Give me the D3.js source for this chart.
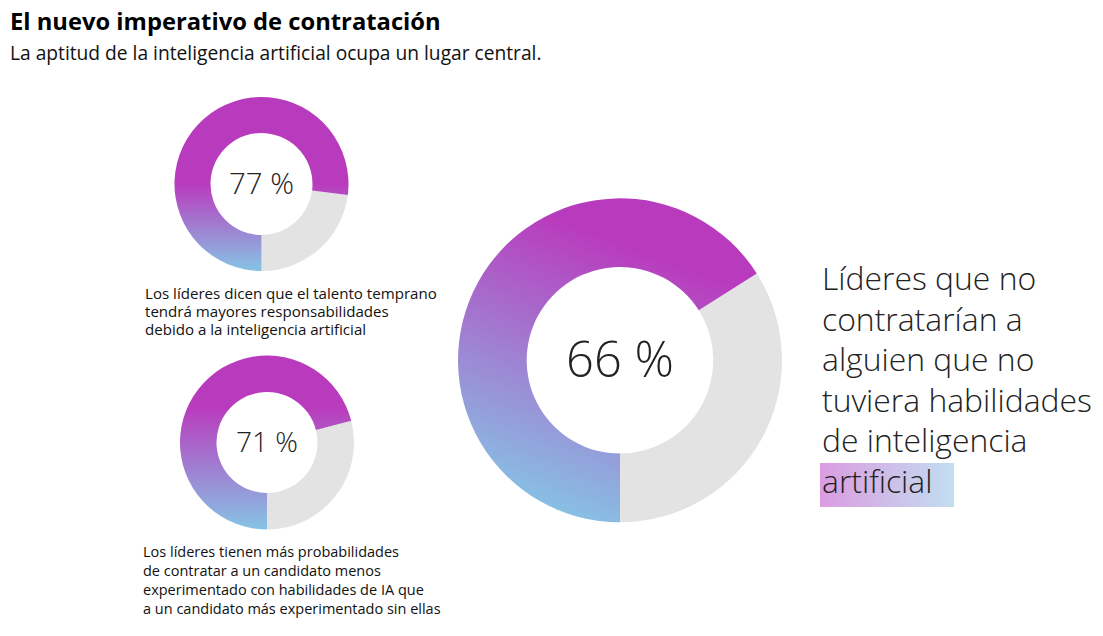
<!DOCTYPE html>
<html><head><meta charset="utf-8">
<script src="https://cdn.jsdelivr.net/npm/d3@7"></script>
<style>
html,body{margin:0;padding:0;background:#fff;}
svg{display:block;font-family:"Open Sans","Noto Sans",sans-serif;}
</style></head>
<body>
<svg id="c" width="1103" height="636"></svg>
<script>
// ---- data ----
const donutValues = [77, 71, 66];
const donutLabels = ["77 %", "71 %", "66 %"];
const title = "El nuevo imperativo de contratación";
const subtitle = "La aptitud de la inteligencia artificial ocupa un lugar central.";
const caption1 = ["Los líderes dicen que el talento temprano", "tendrá mayores responsabilidades", "debido a la inteligencia artificial"];
const caption2 = ["Los líderes tienen más probabilidades", "de contratar a un candidato menos", "experimentado con habilidades de IA que", "a un candidato más experimentado sin ellas"];
const bigText = ["Líderes que no", "contratarían a", "alguien que no", "tuviera habilidades", "de inteligencia", "artificial"];

// ---- drawing ----
const svg = d3.select("#c");
const defs = svg.append("defs");
const MAG = "#b93bbd", BLUE = "#86c4e5", GRAY = "#e3e3e3";

function fit(sel, target) {
  let max = 0;
  sel.each(function(){ max = Math.max(max, this.getComputedTextLength()); });
  const fs = parseFloat(sel.attr("font-size"));
  sel.attr("font-size", fs * target / max);
}

const angle = d3.scaleLinear().domain([0, 100]).range([Math.PI, 3 * Math.PI]);

const layouts = [
  {cx: 261.5, cy: 184, R: 87, r: 51, grad: {x1: 0, y1: -87, x2: 0, y2: 87, s: 0.5}, fs: 32, tw: 65},
  {cx: 267, cy: 442.5, R: 87, r: 50.5, grad: {x1: 0, y1: -87, x2: 0, y2: 87, s: 0.3}, fs: 32, tw: 62},
  {cx: 620, cy: 360.3, R: 162, r: 93.3, grad: {x1: -55, y1: 162, x2: 45, y2: -100, s: 0.0}, fs: 53, tw: 108}
];

donutValues.forEach((v, i) => {
  const L = layouts[i];
  const g = svg.append("g").attr("transform", `translate(${L.cx},${L.cy})`);
  const gid = "g" + i;
  const lg = defs.append("linearGradient").attr("id", gid)
    .attr("gradientUnits", "userSpaceOnUse")
    .attr("x1", L.grad.x1).attr("y1", L.grad.y1).attr("x2", L.grad.x2).attr("y2", L.grad.y2);
  // from magenta (start) to blue (end) — start point is top side for small donuts
  if (i < 2) {
    lg.append("stop").attr("offset", 0).attr("stop-color", MAG);
    lg.append("stop").attr("offset", L.grad.s).attr("stop-color", MAG);
    lg.append("stop").attr("offset", 1).attr("stop-color", BLUE);
  } else {
    lg.append("stop").attr("offset", 0).attr("stop-color", BLUE);
    lg.append("stop").attr("offset", 1).attr("stop-color", MAG);
  }
  const arc = d3.arc().innerRadius(L.r).outerRadius(L.R);
  g.append("path").attr("d", arc({startAngle: angle(v), endAngle: angle(100)})).attr("fill", GRAY);
  g.append("path").attr("d", arc({startAngle: angle(0), endAngle: angle(v)})).attr("fill", `url(#${gid})`);
  const t = g.append("text").attr("text-anchor", "middle").attr("dy", "0.35em")
    .attr("font-size", L.fs).attr("font-weight", 300).attr("fill", "#222")
    .text(donutLabels[i]);
  fit(t, L.tw);
});

// title + subtitle
const tt = svg.append("text").attr("x", 10).attr("y", 30).attr("font-size", 22).attr("font-weight", 700)
  .attr("fill", "#000").text(title);
fit(tt, 431);
const st = svg.append("text").attr("x", 10).attr("y", 60).attr("font-size", 17)
  .attr("fill", "#111").text(subtitle);
fit(st, 532);

// captions
function caption(lines, x, y0, lh, target) {
  const sel = svg.append("g").selectAll("text").data(lines).join("text")
    .attr("x", x).attr("y", (d, i) => y0 + i * lh)
    .attr("font-size", 14).attr("fill", "#111").text(d => d);
  fit(sel, target);
}
caption(caption1, 145, 299, 18, 292);
caption(caption2, 143, 557, 19, 298);

// big right text
const hlGrad = defs.append("linearGradient").attr("id", "hl").attr("x1", 0).attr("x2", 1).attr("y1", 0).attr("y2", 0);
hlGrad.append("stop").attr("offset", 0).attr("stop-color", "#db9ce0");
hlGrad.append("stop").attr("offset", 1).attr("stop-color", "#c2def1");
svg.append("rect").attr("x", 820).attr("y", 463).attr("width", 134).attr("height", 44).attr("fill", "url(#hl)");
const bt = svg.append("g").selectAll("text").data(bigText).join("text")
  .attr("x", 822).attr("y", (d, i) => 290 + i * 40.6)
  .attr("font-size", 34).attr("font-weight", 300).attr("fill", "#222").text(d => d);
fit(bt, 270);
</script>
</body></html>
